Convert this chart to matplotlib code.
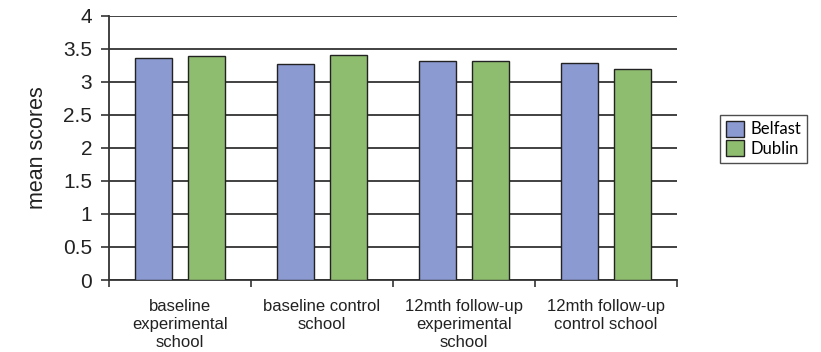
import matplotlib
matplotlib.use("Agg")
import matplotlib.pyplot as plt
import numpy as np
from matplotlib.ticker import FixedLocator, NullFormatter

categories = ["baseline\nexperimental\nschool", "baseline control\nschool",
              "12mth follow-up\nexperimental\nschool", "12mth follow-up\ncontrol school"]
belfast = [3.36, 3.27, 3.31, 3.29]
dublin = [3.39, 3.41, 3.31, 3.20]
series_names = ["Belfast", "Dublin"]
yticks = [0, 0.5, 1, 1.5, 2, 2.5, 3, 3.5, 4]
ytick_labels = ["0", "0.5", "1", "1.5", "2", "2.5", "3", "3.5", "4"]

plt.rcParams["font.family"] = ["Liberation Sans", "DejaVu Sans"]

fig = plt.figure(figsize=(8.21, 3.52), dpi=100)
ax = fig.add_axes([0.1328, 0.2045, 0.8246 - 0.1328, 0.9554 - 0.2045])

x = np.arange(len(categories))
w = 0.255
off = 0.187
b1 = ax.bar(x - off, belfast, w, color="#8b9ad0", edgecolor="#222222", linewidth=1.0,
            label=series_names[0], zorder=3)
b2 = ax.bar(x + off, dublin, w, color="#8fbd70", edgecolor="#222222", linewidth=1.0,
            label=series_names[1], zorder=3)

ax.set_xlim(-0.5, len(categories) - 0.5)
ax.set_ylim(0, 4)
ax.set_yticks(yticks)
ax.set_yticklabels(ytick_labels, fontsize=15, color="#222222")
ax.yaxis.grid(True, color="#333333", linewidth=1.3, zorder=0)
ax.set_axisbelow(True)

ax.set_xticks(x)
ax.set_xticklabels(categories, fontsize=12, color="#222222", linespacing=1.22)
ax.tick_params(axis="x", which="major", length=0, pad=14)
ax.xaxis.set_minor_locator(FixedLocator(np.arange(-0.5, len(categories), 1.0)))
ax.xaxis.set_minor_formatter(NullFormatter())
ax.tick_params(axis="x", which="minor", length=5, width=1.2, color="#333333", direction="out")
ax.tick_params(axis="y", length=6, width=1.2, color="#333333", pad=6)

for s in ["top", "right"]:
    ax.spines[s].set_visible(False)
for s in ["left", "bottom"]:
    ax.spines[s].set_color("#333333")
    ax.spines[s].set_linewidth(1.3)

ax.set_ylabel("mean scores", fontsize=15.5, color="#222222", labelpad=11)

leg = ax.legend(handles=[b1, b2], loc="upper left", bbox_to_anchor=(720 / 821, 1 - 115 / 352),
                bbox_transform=fig.transFigure, frameon=True, fancybox=False,
                prop={"family": "Lato", "size": 12}, handlelength=1.1, handleheight=1.1,
                handletextpad=0.35, borderpad=0.35, labelspacing=0.15, borderaxespad=0)
leg.get_frame().set_edgecolor("#222222")
leg.get_frame().set_linewidth(1.0)

fig.savefig("out.png", dpi=100)
